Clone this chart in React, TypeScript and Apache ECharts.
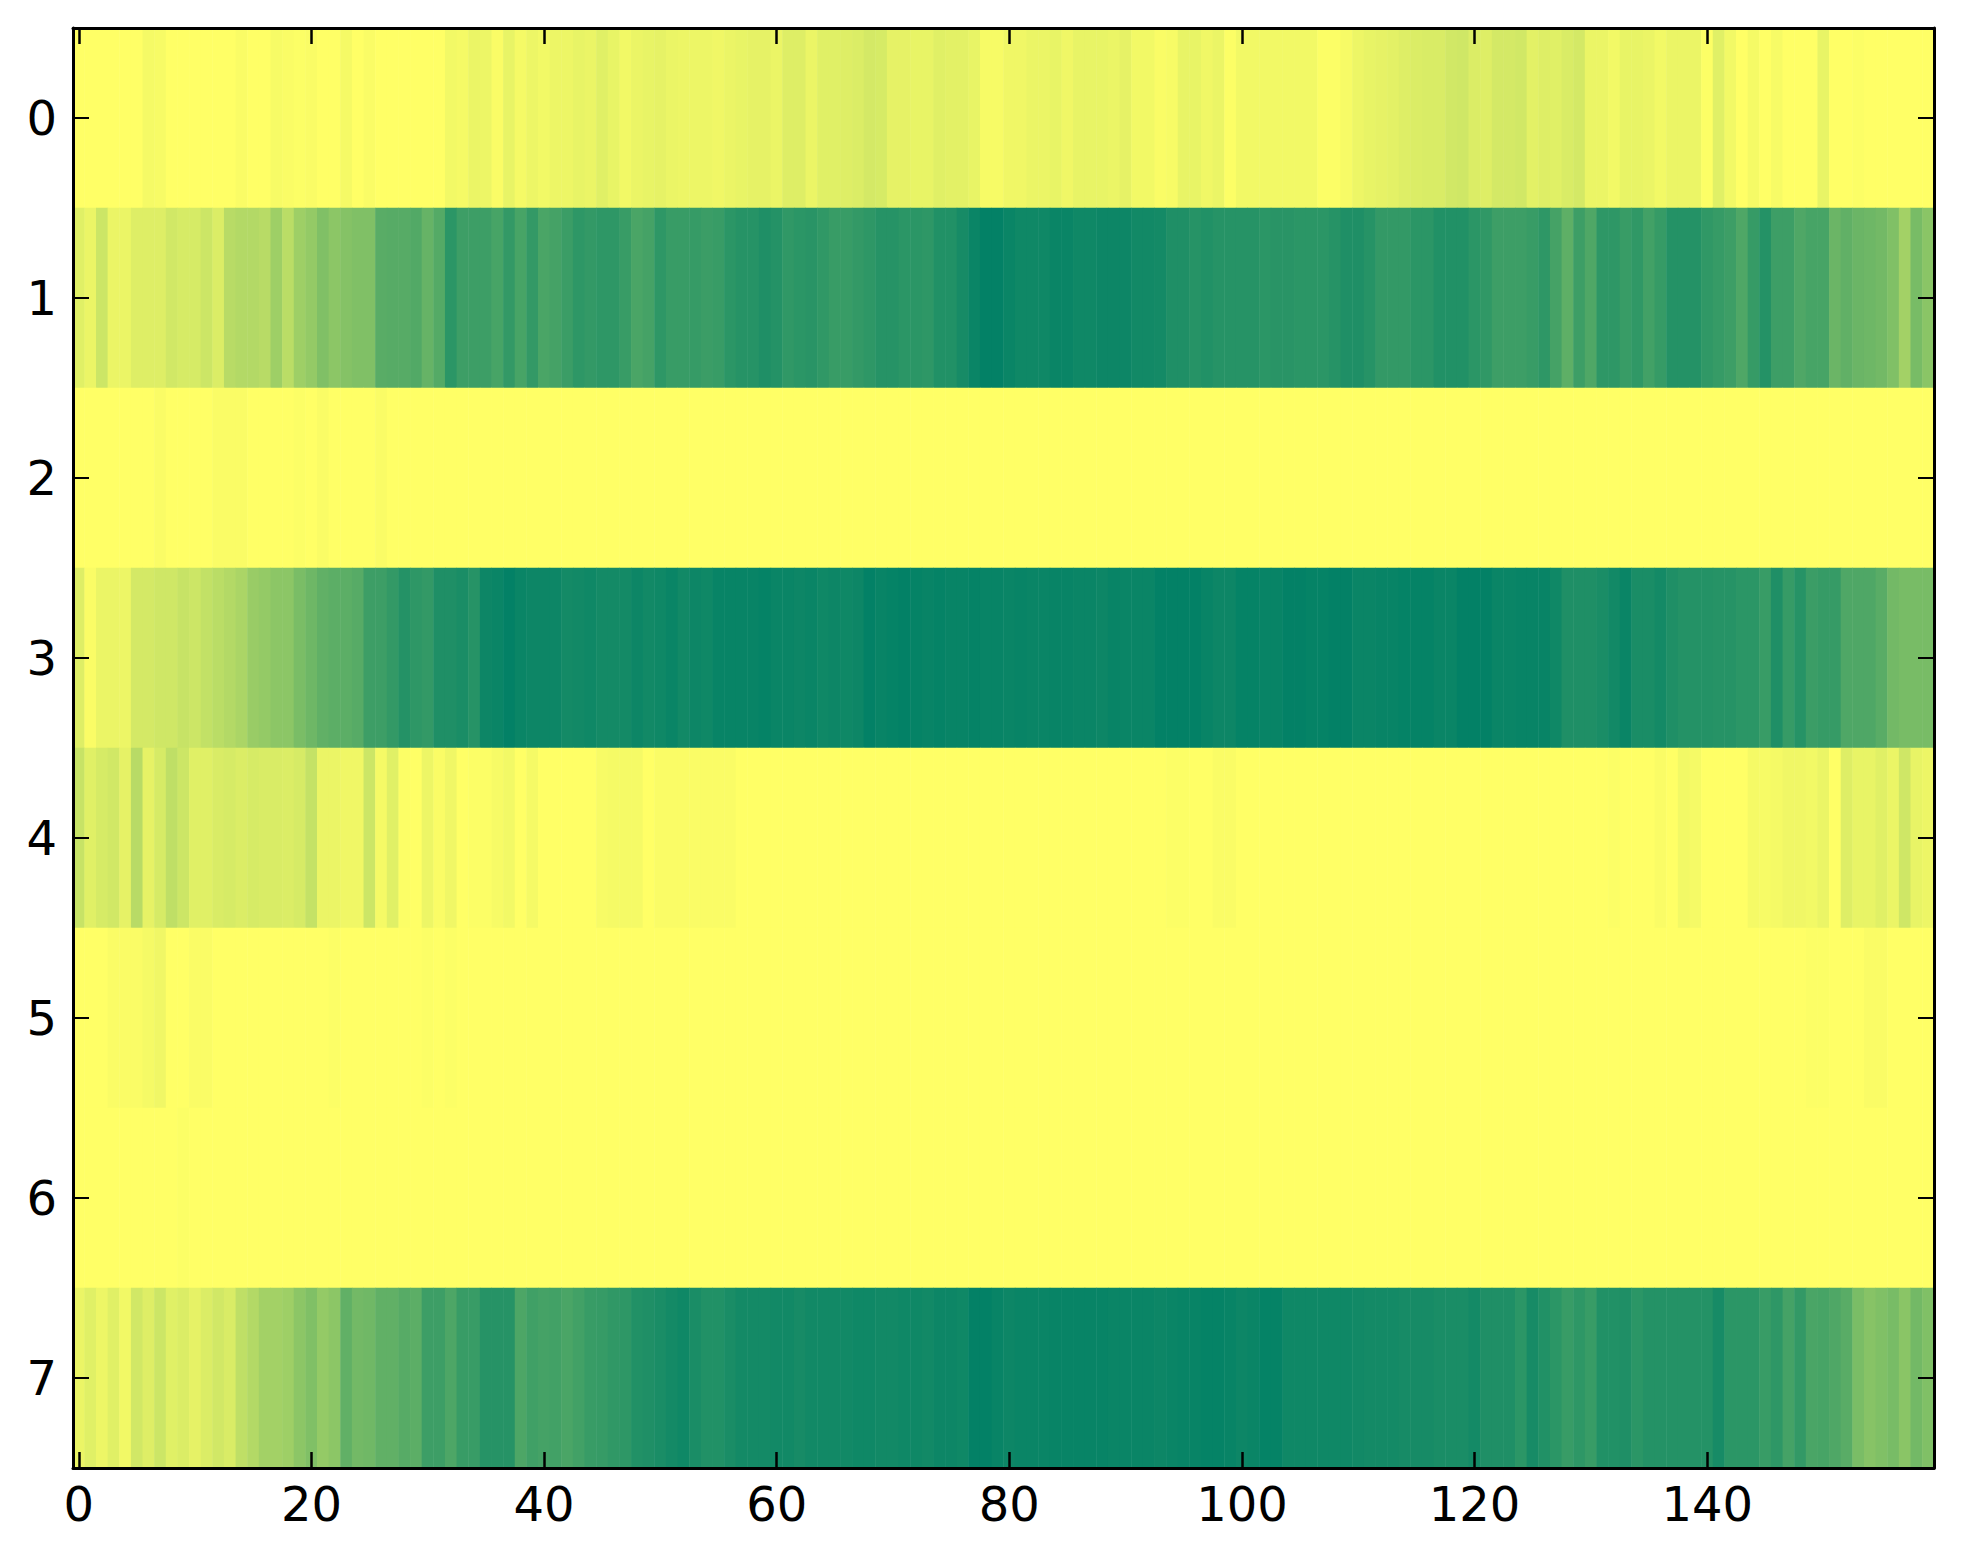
import React, { useEffect, useRef } from "react";
import * as echarts from "echarts";

const xCategories: string[] = Array.from({ length: 160 }, (_, i) => String(i));
const yCategories: string[] = ["0", "1", "2", "3", "4", "5", "6", "7"];

const row0: number[] = [
  0,0,0,0,0,0,0.04,0.03,0,0, 0,0,0,0,0.02,0,0,0.03,0.02,0.01, 0.02,0,0,0.04,0,0.02,0,0,0,0, 0,0,0.05,0.04,0.08,0.07,0.02,0.09,0.04,0.07,
  0.05,0.07,0.07,0.09,0.08,0.12,0.09,0.05,0.08,0.09, 0.1,0.08,0.07,0.07,0.07,0.06,0.08,0.09,0.1,0.1, 0.08,0.13,0.13,0.08,0.12,0.12,0.13,0.14,0.17,0.16, 0.1,0.1,0.09,0.09,0.12,0.11,0.11,0.09,0.03,0.03,
  0.06,0.06,0.08,0.08,0.09,0.06,0.09,0.09,0.09,0.08, 0.1,0.05,0.05,0.02,0.03,0.09,0.09,0.06,0.08,0.01, 0.05,0.05,0.05,0.05,0.05,0.05,0.05,0.01,0.01,0.03, 0.07,0.09,0.1,0.11,0.13,0.14,0.15,0.15,0.18,0.19,
  0.14,0.13,0.17,0.17,0.18,0.11,0.13,0.12,0.15,0.17, 0.08,0.08,0.05,0.09,0.09,0.08,0.05,0.08,0.08,0.08, 0.01,0.12,0.05,0,0.04,0,0.03,0,0,0, 0.09,0,0,0.01,0,0,0,0,0,0,
];
const row1: number[] = [
  0.12,0.08,0.2,0.08,0.08,0.13,0.13,0.13,0.18,0.16, 0.16,0.2,0.14,0.28,0.3,0.3,0.28,0.38,0.27,0.38, 0.42,0.5,0.45,0.48,0.5,0.5,0.65,0.66,0.66,0.68, 0.6,0.67,0.83,0.76,0.76,0.76,0.72,0.8,0.72,0.8,
  0.71,0.73,0.77,0.82,0.8,0.82,0.82,0.78,0.71,0.73, 0.82,0.78,0.78,0.79,0.77,0.78,0.83,0.85,0.85,0.88, 0.86,0.81,0.83,0.84,0.81,0.78,0.78,0.8,0.82,0.85, 0.85,0.83,0.83,0.82,0.87,0.87,0.91,0.96,0.99,0.99,
  0.96,0.94,0.94,0.94,0.96,0.96,0.94,0.94,0.95,0.95, 0.95,0.93,0.93,0.92,0.88,0.88,0.85,0.87,0.85,0.85, 0.85,0.85,0.83,0.84,0.84,0.83,0.83,0.83,0.85,0.88, 0.88,0.85,0.8,0.8,0.8,0.83,0.83,0.87,0.87,0.87,
  0.83,0.81,0.76,0.76,0.76,0.78,0.82,0.73,0.63,0.76, 0.69,0.82,0.82,0.78,0.81,0.74,0.79,0.86,0.86,0.86, 0.81,0.79,0.76,0.69,0.79,0.86,0.76,0.76,0.69,0.72, 0.72,0.58,0.62,0.58,0.57,0.55,0.5,0.36,0.53,0.46,
];
const row2: number[] = [
  0,0,0,0,0,0,0,0.02,0,0, 0,0,0.02,0.02,0.02,0,0,0,0,0.01, 0,0.02,0,0,0,0,0.02,0,0,0, 0,0,0,0,0,0,0,0,0,0,
  0,0,0,0,0,0,0,0,0,0, 0,0,0,0,0,0,0,0,0,0, 0,0,0,0,0,0,0,0,0,0, 0,0,0,0,0,0,0,0,0,0,
  0,0,0,0,0,0,0,0,0,0, 0,0,0,0,0,0,0,0,0,0, 0,0,0,0,0,0,0,0,0,0, 0,0,0,0,0,0,0,0,0,0,
  0,0,0,0,0,0,0,0,0,0, 0,0,0,0,0,0,0,0,0,0, 0,0,0,0,0,0,0,0,0,0, 0,0,0,0,0,0,0,0,0,0,
];
const row3: number[] = [
  0.13,0.02,0.08,0.08,0.07,0.17,0.17,0.19,0.19,0.22, 0.2,0.24,0.27,0.3,0.33,0.4,0.42,0.45,0.45,0.52, 0.57,0.62,0.64,0.64,0.66,0.76,0.76,0.8,0.86,0.82, 0.8,0.88,0.88,0.9,0.85,0.95,0.96,0.99,0.96,0.95,
  0.95,0.95,0.92,0.93,0.94,0.92,0.92,0.92,0.95,0.93, 0.94,0.96,0.93,0.95,0.94,0.97,0.97,0.97,0.97,0.98, 0.96,0.96,0.95,0.96,0.94,0.95,0.94,0.95,0.99,0.97, 0.98,0.99,0.98,0.97,0.98,0.97,0.97,0.98,0.97,0.97,
  0.96,0.97,0.96,0.96,0.97,0.97,0.96,0.96,0.95,0.97, 0.96,0.96,0.96,0.99,0.99,0.99,0.99,0.97,0.95,0.95, 0.98,0.98,0.97,0.97,0.99,0.99,0.98,0.98,0.99,0.99, 0.96,0.96,0.97,0.97,0.98,0.98,0.98,0.96,0.96,0.99,
  0.99,0.99,0.96,0.96,0.97,0.97,0.97,0.94,0.88,0.88, 0.88,0.9,0.93,0.96,0.9,0.9,0.92,0.88,0.86,0.86, 0.86,0.85,0.85,0.83,0.83,0.78,0.88,0.79,0.85,0.77, 0.79,0.79,0.69,0.69,0.69,0.65,0.55,0.53,0.53,0.53,
];
const row4: number[] = [
  0.22,0.12,0.16,0.18,0.1,0.28,0.1,0.16,0.25,0.2, 0.12,0.12,0.15,0.16,0.14,0.16,0.15,0.15,0.14,0.16, 0.23,0.08,0.08,0.06,0.06,0.2,0.04,0.12,0.01,0, 0.07,0.02,0.06,0,0.01,0.01,0.03,0.05,0,0.04,
  0,0,0,0,0,0.03,0.04,0.04,0.04,0, 0.02,0.02,0.02,0.02,0.02,0.02,0.02,0,0,0, 0,0,0,0,0,0,0,0,0,0, 0,0,0,0,0,0,0,0,0,0,
  0,0,0,0,0,0,0,0,0,0, 0,0,0,0,0.01,0.01,0,0,0.02,0.02, 0,0,0,0,0,0,0,0,0,0, 0,0,0,0,0,0,0,0,0,0,
  0,0,0,0,0,0,0,0,0,0, 0,0,0.01,0,0,0,0.02,0,0.05,0.04, 0,0,0,0,0.04,0.03,0.04,0.06,0.06,0.05, 0.08,0,0.13,0.09,0.09,0.12,0.08,0.19,0.09,0.07,
];
const row5: number[] = [
  0,0,0,0.02,0.02,0.02,0.04,0.06,0,0, 0.02,0.02,0,0,0,0,0,0,0,0, 0,0,0.01,0,0,0,0,0,0,0, 0.01,0,0.01,0,0,0,0,0,0,0,
  0,0,0,0,0,0,0,0,0,0, 0,0,0,0,0,0,0,0,0,0, 0,0,0,0,0,0,0,0,0,0, 0,0,0,0,0,0,0,0,0,0,
  0,0,0,0,0,0,0,0,0,0, 0,0,0,0,0,0,0,0,0,0, 0,0,0,0,0,0,0,0,0,0, 0,0,0,0,0,0,0,0,0,0,
  0,0,0,0,0,0,0,0,0,0, 0,0,0,0,0,0,0,0,0,0, 0,0,0,0,0,0,0,0,0,0.01, 0.01,0,0,0,0.02,0.02,0,0,0,0,
];
const row6: number[] = [
  0,0,0,0,0,0,0,0,0,0.01, 0,0,0,0,0,0,0,0,0,0, 0,0,0,0,0,0,0,0,0,0, 0,0,0,0,0,0,0,0,0,0,
  0,0,0,0,0,0,0,0,0,0, 0,0,0,0,0,0,0,0,0,0, 0,0,0,0,0,0,0,0,0,0, 0,0,0,0,0,0,0,0,0,0,
  0,0,0,0,0,0,0,0,0,0, 0,0,0,0,0,0,0,0,0,0, 0,0,0,0,0,0,0,0,0,0, 0,0,0,0,0,0,0,0,0,0,
  0,0,0,0,0,0,0,0,0,0, 0,0,0,0,0,0,0,0,0,0, 0,0,0,0,0,0,0,0,0,0, 0,0,0,0,0,0,0,0,0,0,
];
const row7: number[] = [
  0.08,0.12,0.07,0.12,0.05,0.18,0.13,0.2,0.12,0.14, 0.1,0.14,0.18,0.15,0.25,0.3,0.36,0.36,0.38,0.45, 0.5,0.42,0.45,0.62,0.55,0.56,0.62,0.62,0.66,0.64, 0.76,0.76,0.7,0.78,0.78,0.85,0.85,0.85,0.7,0.75,
  0.73,0.74,0.71,0.74,0.78,0.79,0.81,0.82,0.87,0.88, 0.9,0.92,0.94,0.9,0.87,0.87,0.9,0.92,0.92,0.92, 0.93,0.93,0.91,0.93,0.93,0.93,0.93,0.94,0.94,0.93, 0.93,0.94,0.94,0.93,0.95,0.95,0.94,0.99,0.99,0.97,
  0.95,0.96,0.96,0.96,0.97,0.97,0.97,0.97,0.97,0.96, 0.96,0.96,0.96,0.95,0.96,0.97,0.97,0.98,0.98,0.97, 0.95,0.96,0.98,0.98,0.94,0.94,0.94,0.94,0.94,0.94, 0.93,0.92,0.92,0.92,0.91,0.91,0.91,0.9,0.9,0.9,
  0.92,0.88,0.88,0.88,0.83,0.91,0.87,0.83,0.78,0.82, 0.78,0.87,0.87,0.88,0.83,0.86,0.86,0.86,0.86,0.86, 0.86,0.91,0.83,0.83,0.83,0.78,0.82,0.73,0.8,0.71, 0.72,0.69,0.65,0.52,0.47,0.5,0.53,0.46,0.55,0.5,
];

const rows: number[][] = [row0, row1, row2, row3, row4, row5, row6, row7];

const FONT = "DejaVu Sans";

export default function App() {
  const ref = useRef<HTMLDivElement>(null);

  useEffect(() => {
    if (!ref.current) return;
    const chart = echarts.init(ref.current, undefined, { renderer: "svg" });

    const data: [number, number, number][] = [];
    rows.forEach((r, yi) => {
      r.forEach((v, xi) => {
        data.push([xi, yi, v]);
      });
    });

    const tickEvery20 = (i: number) => i % 20 === 0;

    const xBase = {
      type: "category",
      data: xCategories,
      boundaryGap: true,
      z: 10,
      axisLine: { show: true, lineStyle: { color: "#000", width: 3 } },
      axisTick: {
        show: true,
        inside: true,
        alignWithLabel: true,
        interval: tickEvery20,
        length: 16,
        lineStyle: { color: "#000", width: 2.5 },
      },
      splitLine: { show: false },
    };
    const yBase = {
      type: "category",
      data: yCategories,
      inverse: true,
      boundaryGap: true,
      z: 10,
      axisLine: { show: true, lineStyle: { color: "#000", width: 3 } },
      axisTick: {
        show: true,
        inside: true,
        alignWithLabel: true,
        length: 16,
        lineStyle: { color: "#000", width: 2 },
      },
      splitLine: { show: false },
    };

    chart.setOption({
      animation: false,
      backgroundColor: "#ffffff",
      grid: { left: 73, top: 28, width: 1861, height: 1440, containLabel: false },
      xAxis: [
        {
          ...xBase,
          position: "bottom",
          axisLabel: {
            show: true,
            interval: tickEvery20,
            fontSize: 48,
            fontFamily: FONT,
            color: "#000",
            margin: 12,
          },
        },
        {
          ...xBase,
          position: "top",
          axisLabel: { show: false },
        },
      ],
      yAxis: [
        {
          ...yBase,
          position: "left",
          axisLabel: {
            show: true,
            fontSize: 48,
            fontFamily: FONT,
            color: "#000",
            margin: 16,
          },
        },
        {
          ...yBase,
          position: "right",
          axisLabel: { show: false },
        },
      ],
      visualMap: {
        show: false,
        type: "continuous",
        min: 0,
        max: 1,
        dimension: 2,
        seriesIndex: 0,
        inRange: { color: ["#ffff66", "#008066"] },
      },
      series: [
        {
          type: "heatmap",
          xAxisIndex: 0,
          yAxisIndex: 0,
          z: 1,
          data,
          progressive: 0,
          itemStyle: { borderWidth: 0 },
          emphasis: { disabled: true },
        },
      ],
    });

    return () => {
      chart.dispose();
    };
  }, []);

  return (
    <div
      ref={ref}
      style={{ position: "absolute", left: 0, top: 0, width: 1963, height: 1564 }}
    />
  );
}
